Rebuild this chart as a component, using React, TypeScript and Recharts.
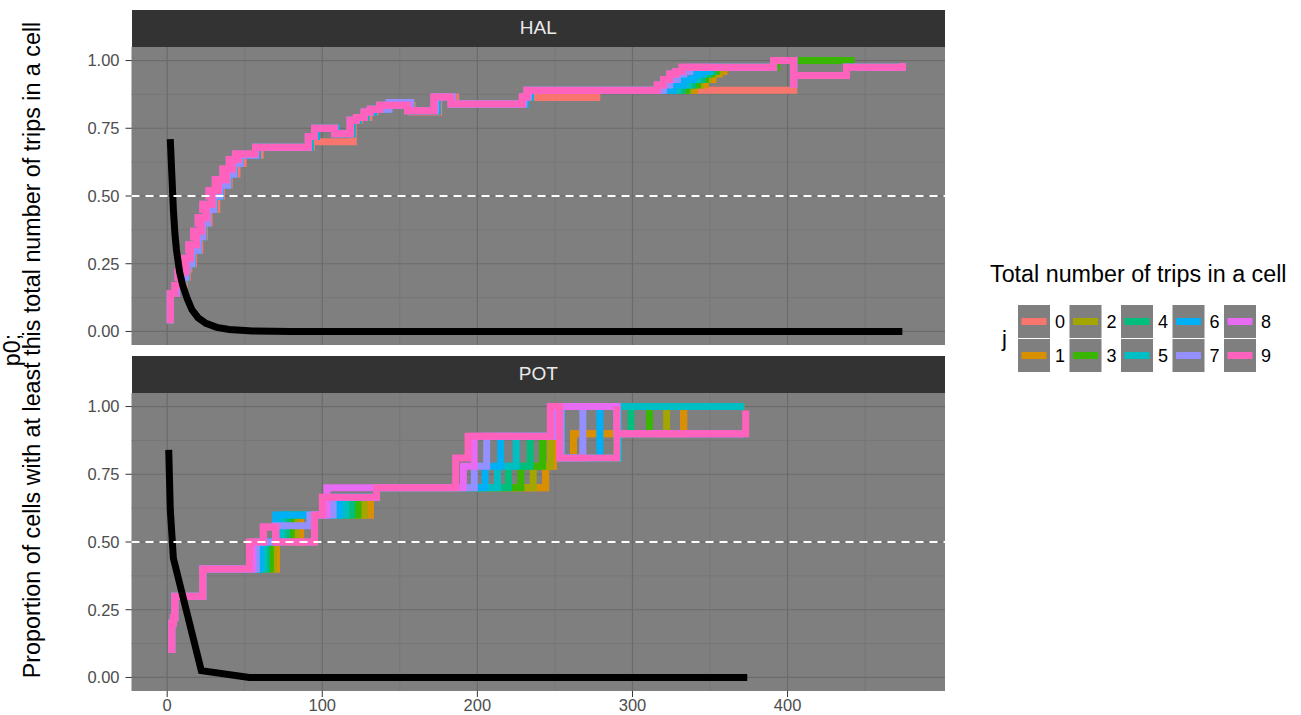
import React from "react";
import { LineChart, Line, XAxis, YAxis, CartesianGrid, ReferenceLine } from "recharts";

type Pt = [number, number];

// legend levels (j) and ggplot hue colours
const J_LEVELS = ["0", "1", "2", "3", "4", "5", "6", "7", "8", "9"];
const J_COLORS = [
  "#F8766D",
  "#D89000",
  "#A3A500",
  "#39B600",
  "#00BF7D",
  "#00BFC4",
  "#00B0F6",
  "#9590FF",
  "#E76BF3",
  "#FF62BC",
];

const X_TICKS = [0, 100, 200, 300, 400];
const X_MINOR = [50, 150, 250, 350, 450];
const Y_TICKS = [0, 0.25, 0.5, 0.75, 1];
const Y_MINOR = [0.125, 0.375, 0.625, 0.875];
const X_DOMAIN: [number, number] = [-23, 501.5];
const Y_DOMAIN: [number, number] = [-0.05, 1.05];

// ---- HAL: step points [x, y] (horizontal to x, then up/down to y)
// j8/j9 wander back and forth on the rising part, which gives the wide pink band
const HAL_HEAD_PINK: Pt[] = [
  [2, 0.03], [2, 0.14], [5, 0.17], [9, 0.2], [7, 0.22], [12, 0.25], [10, 0.27], [15, 0.3],
  [14, 0.32], [19, 0.35], [17, 0.37], [22, 0.4], [20, 0.42], [25, 0.45], [23, 0.47], [29, 0.5],
  [27, 0.52], [33, 0.54], [31, 0.56], [38, 0.58], [36, 0.6], [42, 0.62], [40, 0.635], [46, 0.65],
  [44, 0.655],
];
const HAL_HEAD_LATE: Pt[] = [
  [2, 0.03], [2, 0.14], [6, 0.17], [10, 0.2], [12, 0.23], [13, 0.25], [16, 0.3], [20, 0.35],
  [23, 0.4], [26, 0.45], [30, 0.5], [34, 0.54], [39, 0.58], [43, 0.62], [47, 0.65],
];
const HAL_HEAD_J0: Pt[] = [
  [2, 0.03], [2, 0.14], [6, 0.17], [11, 0.2], [13, 0.23], [14, 0.25], [17, 0.3], [21, 0.35],
  [24, 0.4], [27, 0.45], [32, 0.5], [35, 0.54], [40, 0.58], [45, 0.62], [49, 0.65],
];
const HAL_MID: Pt[] = [
  [57, 0.68], [91, 0.72], [95, 0.75], [108, 0.73], [118, 0.78], [122, 0.79], [127, 0.81],
  [131, 0.82], [137, 0.835], [155, 0.815], [172, 0.865], [183, 0.84], [229, 0.865], [232, 0.89],
];
const HAL_MID_J7: Pt[] = [
  [57, 0.68], [91, 0.72], [95, 0.75], [108, 0.73], [118, 0.78], [122, 0.79], [127, 0.81],
  [131, 0.82], [143, 0.845], [157, 0.815], [173, 0.865], [184, 0.84], [230, 0.865], [233, 0.89],
];
const HAL_MID_LATE: Pt[] = [
  [58, 0.68], [92, 0.72], [96, 0.75], [109, 0.73], [119, 0.78], [123, 0.79], [128, 0.81],
  [133, 0.82], [141, 0.835], [157, 0.815], [174, 0.865], [184, 0.84], [231, 0.865], [234, 0.89],
];
const HAL_MID_J0: Pt[] = [
  [60, 0.68], [93, 0.7], [120, 0.78], [124, 0.79], [130, 0.81], [134, 0.82], [140, 0.835],
  [158, 0.81], [175, 0.865], [186, 0.84], [229, 0.864], [277, 0.89],
];
const HAL_END: Pt[] = [[391, 1.0], [404, 0.9], [404, 0.945], [438, 0.975], [474, 0.99]];
const HAL_TAIL_J9: Pt[] = [[316, 0.91], [320, 0.93], [324, 0.95], [328, 0.96], [332, 0.975]];
const HAL_TAIL_J7: Pt[] = [[320, 0.91], [324, 0.93], [329, 0.95], [333, 0.96], [337, 0.975]];
const HAL_TAIL_J6: Pt[] = [[326, 0.91], [333, 0.93], [339, 0.95], [344, 0.96], [348, 0.975]];
const HAL_TAIL_J5: Pt[] = [[329, 0.91], [336, 0.93], [342, 0.95], [346, 0.96], [350, 0.975]];
const HAL_TAIL_J4: Pt[] = [[332, 0.91], [339, 0.93], [345, 0.95], [349, 0.96], [352, 0.975]];
const HAL_TAIL_J3: Pt[] = [[335, 0.91], [342, 0.93], [347, 0.95], [351, 0.96], [354, 0.975], [393, 1.0], [441, 0.975], [474, 0.99]];
const HAL_TAIL_J2: Pt[] = [[337, 0.91], [344, 0.93], [349, 0.95], [353, 0.96], [356, 0.975]];
const HAL_TAIL_J1: Pt[] = [[340, 0.91], [347, 0.93], [352, 0.95], [356, 0.96], [359, 0.975]];
const HAL_TAIL_J0: Pt[] = [[404, 0.945], [438, 0.975], [474, 0.99]];

const HAL_SERIES: Pt[][] = [
  [...HAL_HEAD_J0, ...HAL_MID_J0, ...HAL_TAIL_J0],
  [...HAL_HEAD_LATE, ...HAL_MID_LATE, ...HAL_TAIL_J1, ...HAL_END],
  [...HAL_HEAD_LATE, ...HAL_MID_LATE, ...HAL_TAIL_J2, ...HAL_END],
  [...HAL_HEAD_LATE, ...HAL_MID_LATE, ...HAL_TAIL_J3],
  [...HAL_HEAD_LATE, ...HAL_MID_LATE, ...HAL_TAIL_J4, ...HAL_END],
  [...HAL_HEAD_LATE, ...HAL_MID_LATE, ...HAL_TAIL_J5, ...HAL_END],
  [...HAL_HEAD_LATE, ...HAL_MID_LATE, ...HAL_TAIL_J6, ...HAL_END],
  [...HAL_HEAD_LATE, ...HAL_MID_J7, ...HAL_TAIL_J7, ...HAL_END],
  [...HAL_HEAD_PINK, ...HAL_MID, ...HAL_TAIL_J9, ...HAL_END],
  [...HAL_HEAD_PINK, ...HAL_MID, ...HAL_TAIL_J9, ...HAL_END],
];

const HAL_P0: Pt[] = [
  [2, 0.71], [3, 0.58], [4, 0.45], [5, 0.36], [6, 0.3], [8, 0.22], [10, 0.17], [13, 0.12],
  [16, 0.08], [20, 0.05], [25, 0.03], [32, 0.015], [40, 0.007], [55, 0.002], [80, 0], [474, 0],
];

// ---- POT
const POT_HEAD: Pt[] = [[3, 0.09], [3, 0.2], [4, 0.22], [5, 0.3], [23, 0.4]];
const POT_J9: Pt[] = [
  [53, 0.5], [62, 0.555], [70, 0.5], [95, 0.6], [100, 0.665], [135, 0.7], [186, 0.81], [194, 0.89],
  [247, 1.0], [253, 0.81], [290, 1.0], [290, 0.9], [373, 0.985],
];
const POT_J8: Pt[] = [
  [55, 0.5], [62, 0.555], [70, 0.5], [95, 0.6], [103, 0.7], [191, 0.78], [198, 0.89], [248, 1.0],
  [290, 0.9], [372, 0.9],
];
const POT_J7: Pt[] = [
  [57.5, 0.5], [70, 0.56], [92, 0.6], [107, 0.665], [135, 0.7], [198, 0.78], [206, 0.89], [249, 1.0],
  [254, 0.81], [268, 1.0], [290, 0.9], [372, 0.9],
];
const POT_J6: Pt[] = [
  [60, 0.5], [70, 0.6], [111, 0.665], [135, 0.7], [205, 0.78], [215, 0.89], [250, 1.0], [254, 0.81],
  [279, 1.0], [290, 0.9], [372, 0.9],
];
const POT_J5: Pt[] = [
  [62, 0.5], [74, 0.6], [115, 0.665], [135, 0.7], [213, 0.78], [225, 0.89], [251, 1.0], [254, 0.81],
  [291, 1.0], [372, 1.0],
];
const POT_J4: Pt[] = [
  [64, 0.5], [77, 0.6], [119, 0.665], [135, 0.7], [220, 0.78], [234, 0.89], [251, 1.0], [254, 0.81],
  [290, 0.9], [299, 1.0], [372, 1.0],
];
const POT_J3: Pt[] = [
  [66.5, 0.5], [80, 0.6], [123, 0.665], [135, 0.7], [228, 0.78], [242, 0.89], [251, 1.0], [254, 0.81],
  [290, 0.9], [311, 1.0], [372, 1.0],
];
const POT_J2: Pt[] = [
  [68.5, 0.5], [83, 0.6], [127, 0.665], [135, 0.7], [236, 0.78], [247, 0.89], [252, 1.0], [254, 0.81],
  [290, 0.9], [322, 1.0], [372, 1.0],
];
const POT_J1: Pt[] = [
  [70.5, 0.5], [86, 0.6], [131, 0.665], [135, 0.7], [244, 0.78], [249, 0.89], [252, 1.0], [254, 0.81],
  [262, 0.9], [333, 1.0], [372, 1.0],
];

const POT_SERIES: Pt[][] = [
  [...POT_HEAD, ...POT_J1],
  [...POT_HEAD, ...POT_J1],
  [...POT_HEAD, ...POT_J2],
  [...POT_HEAD, ...POT_J3],
  [...POT_HEAD, ...POT_J4],
  [...POT_HEAD, ...POT_J5],
  [...POT_HEAD, ...POT_J6],
  [...POT_HEAD, ...POT_J7],
  [...POT_HEAD, ...POT_J8],
  [...POT_HEAD, ...POT_J9],
];

const POT_P0: Pt[] = [[1, 0.84], [2, 0.62], [4, 0.44], [22, 0.025], [53, 0], [374, 0]];

// layout (page pixels)
const PANEL_LEFT = 131.5;
const PANEL_RIGHT = 945;
const PANEL_H = 298;
const STRIP_H = 36.5;
const Y_AXIS_W = 60;
const FONT = '"Liberation Sans", Arial, Helvetica, sans-serif';

const toRows = (pts: Pt[]) => pts.map(([x, y]) => ({ x, y }));

interface FacetProps {
  name: string;
  series: Pt[][];
  p0: Pt[];
  top: number;
  withXAxis: boolean;
}

function Facet({ name, series, p0, top, withXAxis }: FacetProps) {
  const axisH = withXAxis ? 24 : 0;
  return (
    <div style={{ position: "absolute", left: 0, top }}>
      <div
        style={{
          position: "absolute",
          left: PANEL_LEFT,
          top: -STRIP_H,
          width: PANEL_RIGHT - PANEL_LEFT,
          height: STRIP_H,
          background: "#333333",
          color: "#ebebeb",
          fontSize: 19,
          display: "flex",
          alignItems: "center",
          justifyContent: "center",
        }}
      >
        {name}
      </div>
      <LineChart
        width={PANEL_RIGHT}
        height={PANEL_H + axisH}
        margin={{ top: 0, right: 0, bottom: 0, left: PANEL_LEFT - Y_AXIS_W }}
      >
        <CartesianGrid
          fill="#7f7f7f"
          stroke="#747474"
          strokeWidth={0.7}
          horizontalValues={Y_MINOR}
          verticalValues={X_MINOR}
        />
        <CartesianGrid
          stroke="#6b6b6b"
          strokeWidth={1.2}
          horizontalValues={Y_TICKS}
          verticalValues={X_TICKS}
        />
        <XAxis
          type="number"
          dataKey="x"
          domain={X_DOMAIN}
          ticks={X_TICKS}
          allowDataOverflow
          hide={!withXAxis}
          height={axisH}
          axisLine={false}
          tickSize={6}
          tickMargin={2}
          tick={{ fill: "#4d4d4d", fontSize: 16.5 }}
          tickLine={{ stroke: "#333333" }}
        />
        <YAxis
          type="number"
          domain={Y_DOMAIN}
          ticks={Y_TICKS}
          allowDataOverflow
          width={Y_AXIS_W}
          axisLine={false}
          tickSize={6}
          tickMargin={6}
          tick={{ fill: "#4d4d4d", fontSize: 16.5 }}
          tickLine={{ stroke: "#333333" }}
          tickFormatter={(v: number) => v.toFixed(2)}
        />
        {series.map((pts, j) => (
          <Line
            key={J_LEVELS[j]}
            data={toRows(pts)}
            dataKey="y"
            type="stepAfter"
            stroke={J_COLORS[j]}
            strokeWidth={7}
            dot={false}
            activeDot={false}
            isAnimationActive={false}
          />
        ))}
        <Line
          data={toRows(p0)}
          dataKey="y"
          type="linear"
          stroke="#000000"
          strokeWidth={7}
          dot={false}
          activeDot={false}
          isAnimationActive={false}
        />
        <ReferenceLine y={0.5} stroke="#ffffff" strokeWidth={2} strokeDasharray="8 6" />
      </LineChart>
    </div>
  );
}

function JLegend() {
  const keyW = 32;
  const keyH = 33;
  return (
    <svg style={{ position: "absolute", left: 0, top: 0 }} width={1301} height={715}>
      <text x={990} y={282} fontSize={23.3} fill="#000">
        Total number of trips in a cell
      </text>
      <text x={1002} y={346} fontSize={22} fill="#000">
        j
      </text>
      {J_LEVELS.map((lvl, j) => {
        const col = Math.floor(j / 2);
        const row = j % 2;
        const x = 1018 + col * 51.5;
        const y = 305 + row * 34;
        return (
          <g key={lvl}>
            <rect x={x} y={y} width={keyW} height={keyH} fill="#7f7f7f" />
            <line x1={x + 3.5} x2={x + keyW - 3.5} y1={y + keyH / 2} y2={y + keyH / 2} stroke={J_COLORS[j]} strokeWidth={7} />
            <text x={x + keyW + 5} y={y + keyH / 2 + 6.5} fontSize={18} fill="#000">
              {lvl}
            </text>
          </g>
        );
      })}
    </svg>
  );
}

export default function App() {
  return (
    <div
      style={{
        position: "absolute",
        left: 0,
        top: 0,
        width: 1301,
        height: 715,
        background: "#ffffff",
        fontFamily: FONT,
        overflow: "hidden",
      }}
    >
      <svg style={{ position: "absolute", left: 0, top: 0 }} width={70} height={715}>
        <text transform="translate(19.5,350) rotate(-90)" textAnchor="middle" fontSize={23.3} fill="#000">
          p0;
        </text>
        <text transform="translate(39.5,350) rotate(-90)" textAnchor="middle" fontSize={23.3} fill="#000">
          Proportion of cells with at least this total number of trips in a cell
        </text>
      </svg>
      <Facet name="HAL" series={HAL_SERIES} p0={HAL_P0} top={46.5} withXAxis={false} />
      <Facet name="POT" series={POT_SERIES} p0={POT_P0} top={392.5} withXAxis />
      <JLegend />
    </div>
  );
}
